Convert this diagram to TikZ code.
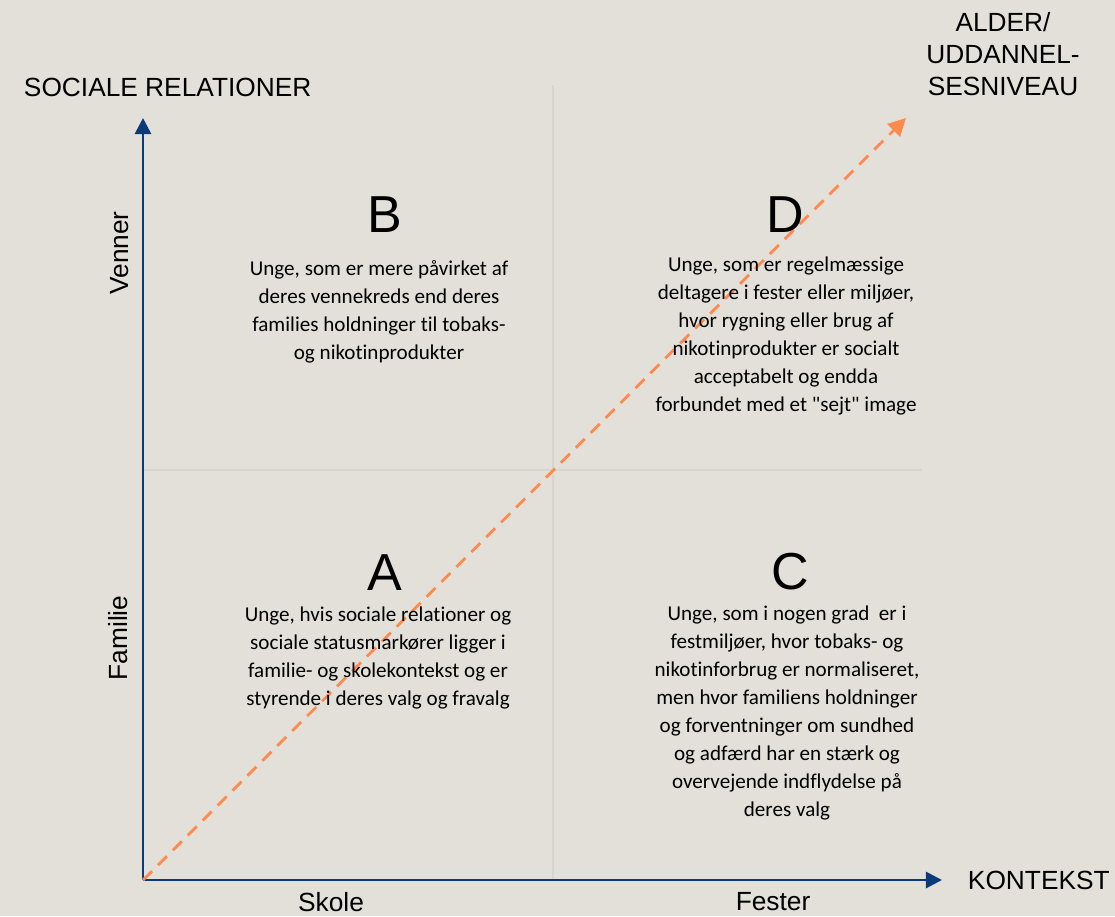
\documentclass[tikz,border=0pt]{standalone}
\usepackage{fontspec}
\setmainfont{Carlito}[Ligatures={TeXOff,CommonOff},Contextuals=AlternateOff]
\newfontfamily\arialfont{Liberation Sans}
\usetikzlibrary{arrows.meta}
\definecolor{bg}{HTML}{E3E0D9}
\definecolor{axisblue}{HTML}{0B3A78}
\definecolor{dashorange}{HTML}{FF8A50}
\definecolor{gridline}{HTML}{D8D5CE}
\begin{document}
\begin{tikzpicture}[x=0.025cm,y=-0.025cm,
  body/.style={align=center,font=\fontsize{15}{19.9}\selectfont},
  letter/.style={font=\arialfont\fontsize{37}{40}\selectfont},
  lbl/.style={font=\arialfont\fontsize{18.7}{22.8}\selectfont,align=center}]

\fill[bg] (0,0) rectangle (1115,916);
\useasboundingbox (0,0) rectangle (1115,916);

\coordinate (o) at (143,880);
\coordinate (ytop) at (143,118);
\coordinate (xend) at (942,880);
\coordinate (dend) at (906,118);
\coordinate (gt) at (553,85);
\coordinate (gb) at (553,880);
\coordinate (gl) at (143,470);
\coordinate (gr) at (922,470);

\draw[gridline,line width=1.5pt] (gt) -- (gb) (gl) -- (gr);
\draw[axisblue,line width=2pt,-{Triangle[length=11.5pt,width=11.5pt]}] (o) -- (ytop);
\draw[axisblue,line width=2pt,-{Triangle[length=11.5pt,width=11.5pt]}] (o) -- (xend);
\draw[dashorange,line width=2pt,dash pattern=on 9pt off 6pt,-{Triangle[length=12.5pt,width=12.5pt]}] (o) -- (dend);

\node[lbl,anchor=west] (soc) at (19,87) {SOCIALE RELATIONER};
\node[lbl] (alder) at (1003,54) {ALDER/\\UDDANNEL-\\SESNIVEAU};
\node[lbl,rotate=90] (venner) at (120,253) {Venner};
\node[lbl,rotate=90] (familie) at (118,638) {Familie};
\node[lbl] (skole) at (331,902) {Skole};
\node[lbl] (fester) at (773,902) {Fester};
\node[lbl,anchor=west] (kontekst) at (963,880) {KONTEKST};

\node[letter] (b) at (385,215) {B};
\node[letter] (d) at (785,215) {D};
\node[letter] (a) at (385,573) {A};
\node[letter] (c) at (790,572) {C};

\node[body] (btext) at (379,312) {Unge, som er mere påvirket af\\deres vennekreds end deres\\families holdninger til tobaks-\\og nikotinprodukter};
\node[body] (dtext) at (786,336) {Unge, som er regelmæssige\\deltagere i fester eller miljøer,\\hvor rygning eller brug af\\nikotinprodukter er socialt\\acceptabelt og endda\\forbundet med et "sejt" image};
\node[body] (atext) at (378,658) {Unge, hvis sociale relationer og\\sociale statusmarkører ligger i\\familie- og skolekontekst og er\\styrende i deres valg og fravalg};
\node[body] (ctext) at (787,713) {Unge, som i nogen grad\ \ er i\\festmiljøer, hvor tobaks- og\\nikotinforbrug er normaliseret,\\men hvor familiens holdninger\\og forventninger om sundhed\\og adfærd har en stærk og\\overvejende indflydelse på\\deres valg};

\end{tikzpicture}
\end{document}
